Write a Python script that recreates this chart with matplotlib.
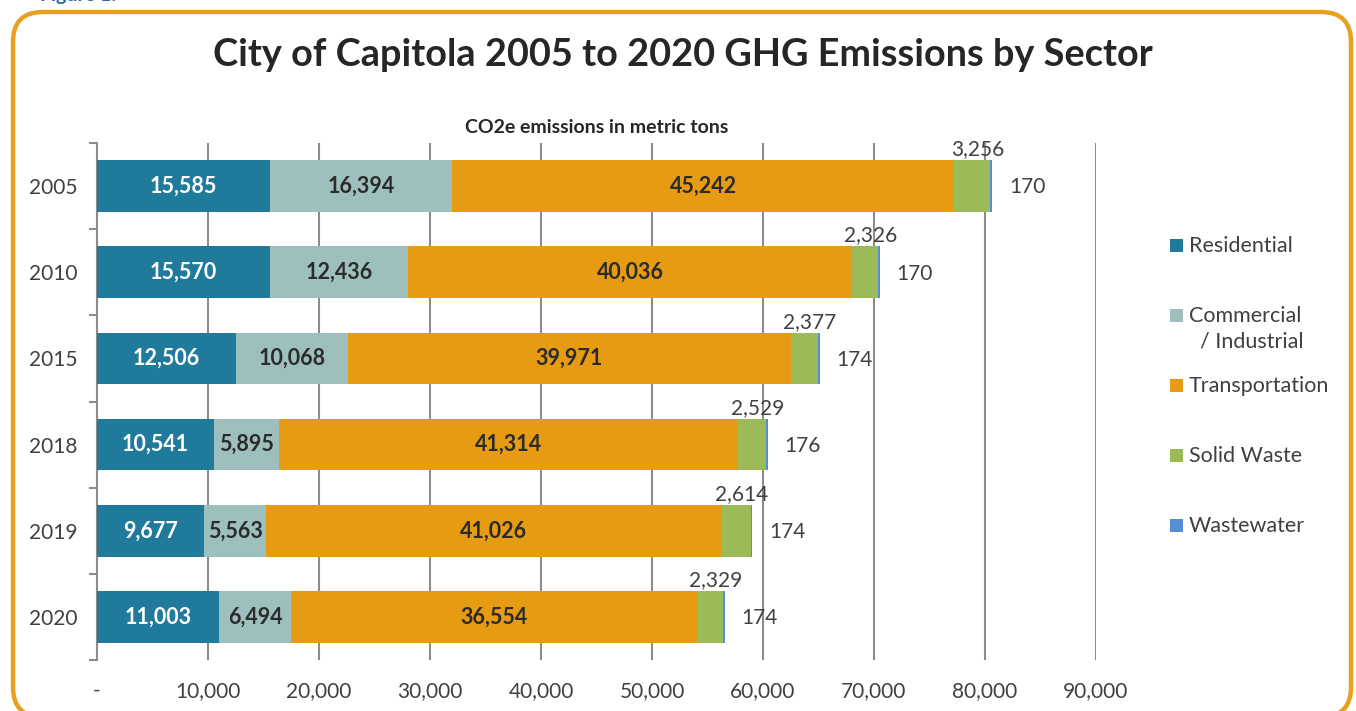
import matplotlib
matplotlib.use("Agg")
import matplotlib.pyplot as plt
from matplotlib.patches import FancyBboxPatch, Rectangle
import numpy as np

plt.rcParams['font.family'] = ['Lato', 'DejaVu Sans']

# ---- data (metric tons CO2e) ----
years = ['2005', '2010', '2015', '2018', '2019', '2020']
sectors = ['Residential', 'Commercial\n  / Industrial', 'Transportation', 'Solid Waste', 'Wastewater']
residential = [15585, 15570, 12506, 10541, 9677, 11003]
commercial = [16394, 12436, 10068, 5895, 5563, 6494]
transportation = [45242, 40036, 39971, 41314, 41026, 36554]
solid_waste = [3256, 2326, 2377, 2529, 2614, 2329]
wastewater = [170, 170, 174, 176, 174, 174]
x_ticks = [0, 10000, 20000, 30000, 40000, 50000, 60000, 70000, 80000, 90000]

colors = ['#1F7A9C', '#9DC0BF', '#E69B12', '#9BBB59', '#558ED5']
label_colors = ['white', '#2b2b2b', '#2b2b2b', None, None]

W, H = 1356, 711
fig = plt.figure(figsize=(W / 100, H / 100), dpi=100)

# orange rounded frame (bottom edge just below the image)
frame = FancyBboxPatch((13 / W, -6 / H), (1351 - 13) / W, 1 - 12 / H + 6 / H,
                       boxstyle="round,pad=0,rounding_size=0.022",
                       transform=fig.transFigure, facecolor='none',
                       edgecolor='#E8A020', linewidth=3.2, zorder=-1,
                       mutation_aspect=W / H)
fig.patches.append(frame)
# caption above the box, cut off by the top edge as in the source
fig.text(40 / W, 1 + 5 / H, 'Figure 1:', color='#2E65A8', fontsize=14,
         fontweight='bold', ha='left', va='center')

fig.text(683 / W, 1 - 55 / H, 'City of Capitola 2005 to 2020 GHG Emissions by Sector',
         ha='center', va='center', fontsize=27.3, fontweight='bold', color='#262626')

ax = fig.add_axes([97 / W, 1 - 660 / H, (1096 - 97) / W, (660 - 143) / H])
ax.set_facecolor('none')
ax.set_title('CO2e emissions in metric tons', fontsize=14, fontweight='bold',
             color='#262626', pad=7)

series = [residential, commercial, transportation, solid_waste, wastewater]
y = np.arange(len(years))
left = np.zeros(len(years))
bar_h = 0.6
for i, vals in enumerate(series):
    vals = np.array(vals)
    ax.barh(y, vals, left=left, height=bar_h, color=colors[i], zorder=3)
    for j, v in enumerate(vals):
        if i < 3:
            ax.text(left[j] + v / 2, y[j], f'{v:,}', ha='center', va='center',
                    fontsize=15.5, fontweight='bold', color=label_colors[i], zorder=4)
        elif i == 3:
            ax.text(left[j] + v / 2 + 500, y[j] - bar_h / 2 - 0.01, f'{v:,}',
                    ha='center', va='bottom', fontsize=15, color='#404040', zorder=4)
        else:
            ax.annotate(f'{v:,}', xy=(left[j] + v, y[j]), xytext=(12, -1),
                        textcoords='offset points', ha='left', va='center',
                        fontsize=15, color='#404040', zorder=4)
    left = left + vals

ax.set_xlim(0, 90000)
ax.set_ylim(len(years) - 0.5, -0.5)
ax.set_xticks(x_ticks)
ax.set_xticklabels(['-'] + [f'{t:,}' for t in x_ticks[1:]], fontsize=15, color='#404040')
ax.tick_params(axis='x', length=0, pad=15)
ax.set_yticks(y)
ax.set_yticklabels(years, fontsize=15, color='#404040')
ax.tick_params(axis='y', which='major', length=0, pad=14)
ax.set_yticks(np.arange(-0.5, len(years)), minor=True)
ax.tick_params(axis='y', which='minor', length=6, width=1.5, color='#8c8c8c')
ax.grid(axis='x', color='#8c8c8c', linewidth=1.5, zorder=0)
for s in ['top', 'right', 'bottom']:
    ax.spines[s].set_visible(False)
ax.spines['left'].set_color('#8c8c8c')
ax.spines['left'].set_linewidth(1.5)

# legend, drawn by hand to match spacing
leg_y = [245, 315, 385, 455, 525]
for c, name, ly in zip(colors, sectors, leg_y):
    fig.patches.append(Rectangle((1170 / W, 1 - (ly + 7) / H), 13 / W, 13 / H,
                                 transform=fig.transFigure, facecolor=c,
                                 edgecolor='none'))
    fig.text(1189 / W, 1 - (ly - 9) / H, name, ha='left', va='top', fontsize=15.5,
             color='#404040', linespacing=1.35)

fig.savefig('out.png', dpi=100)
